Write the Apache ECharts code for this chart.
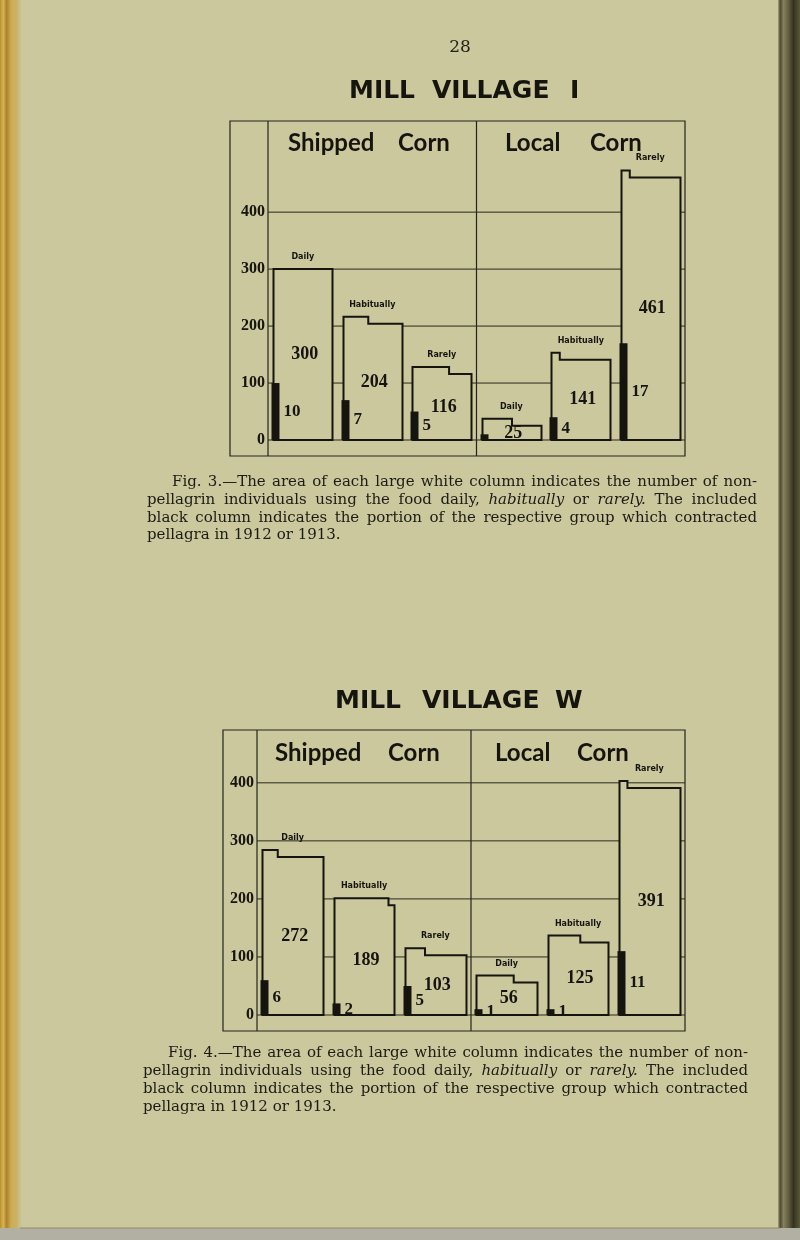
<!DOCTYPE html>
<html><head><meta charset="utf-8">
<script src="https://cdn.jsdelivr.net/npm/echarts@6/dist/echarts.min.js"></script>
<style>html,body{margin:0;padding:0;background:#cbc89d}#c{width:800px;height:1240px}</style>
</head><body><div id="c"></div>
<script>
// ---------------- data ----------------
const categories = ['Daily', 'Habitually', 'Rarely', 'Daily', 'Habitually', 'Rarely'];
const groupTitles = ['Shipped Corn', 'Local Corn'];
const yTicks = [0, 100, 200, 300, 400];
// Mill Village I
const nonPellagrinI = [300, 204, 116, 25, 141, 461];
const pellagrinI = [10, 7, 5, 1, 4, 17];
// Mill Village W
const nonPellagrinW = [272, 189, 103, 56, 125, 391];
const pellagrinW = [6, 2, 5, 1, 1, 11];
const BLACK_UNITS_PER_CASE = 10;   // black column height per pellagrin (axis units)

const captionI = [
  'Fig. 3.\u2014The area of each large white column indicates the number of non-',
  'pellagrin individuals using the food daily, *habitually* or *rarely.*  The included',
  'black column indicates the portion of the respective group which contracted',
  'pellagra in 1912 or 1913.'
];
const captionW = [
  'Fig. 4.\u2014The area of each large white column indicates the number of non-',
  'pellagrin individuals using the food daily, *habitually* or *rarely.*  The included',
  'black column indicates the portion of the respective group which contracted',
  'pellagra in 1912 or 1913.'
];

// ---------------- styles / layout ----------------
const PAPER = '#cbc89d', INK = '#15140e';
const notchI = [0, 0.42, 0.62, 0.5, 0.14, 0.14];
const notchW = [0.25, 0.9, 0.32, 0.61, 0.53, 0.13];
const showCountI = [1, 1, 1, 0, 1, 1];
const showCountW = [1, 1, 1, 1, 1, 1];

const panels = [
  { white: nonPellagrinI, black: pellagrinI, notch: notchI, showCount: showCountI,
    frameLeft: 230, axisX: 268, right: 685, top: 121, base: 440, bottom: 456, yMax: 560,
    title: [['MILL', 349], ['VILLAGE', 432], ['I', 570]], titleY: 91,
    heads: [[['Shipped', 288], ['Corn', 398]], [['Local', 505], ['Corn', 590]]], headY: 143,
    caption: captionI, capX0: [172, 147], capX1: 757, capY: [482, 500, 518, 535] },
  { white: nonPellagrinW, black: pellagrinW, notch: notchW, showCount: showCountW,
    frameLeft: 223, axisX: 257, right: 685, top: 730, base: 1015, bottom: 1031, yMax: 491,
    title: [['MILL', 335], ['VILLAGE', 422], ['W', 555]], titleY: 701,
    heads: [[['Shipped', 275], ['Corn', 388]], [['Local', 495], ['Corn', 577]]], headY: 753,
    caption: captionW, capX0: [168, 143], capX1: 748, capY: [1053, 1071, 1089, 1107] }
];

// ---------------- caption layout (justified) ----------------
const mctx = document.createElement('canvas').getContext('2d');
function fontOf(it, size) { return (it ? 'italic ' : '') + size + 'px "DejaVu Serif"'; }
function tokens(line) {
  return line.split(' ').filter(s => s.length).map(s => {
    const it = s.startsWith('*');
    return { t: s.replace(/\*/g, ''), it };
  });
}
function measure(tok, size) { mctx.font = fontOf(tok.it, size); return mctx.measureText(tok.t).width; }
function captionElements(p) {
  let size = 15;
  for (; size > 12; size -= 0.25) {
    let ok = true;
    for (let li = 0; li < 3; li++) {
      const tk = tokens(p.caption[li]);
      const x0 = li === 0 ? p.capX0[0] : p.capX0[1];
      const sum = tk.reduce((a, t) => a + measure(t, size), 0);
      const gap = (p.capX1 - x0 - sum) / (tk.length - 1);
      if (gap < size * 0.22) { ok = false; break; }
    }
    if (ok) break;
  }
  mctx.font = fontOf(false, size);
  const space = mctx.measureText(' ').width;
  const els = [];
  p.caption.forEach((line, li) => {
    const tk = tokens(line);
    const x0 = li === 0 ? p.capX0[0] : p.capX0[1];
    const widths = tk.map(t => measure(t, size));
    const sum = widths.reduce((a, b) => a + b, 0);
    const justify = li < p.caption.length - 1;
    const gap = justify ? (p.capX1 - x0 - sum) / (tk.length - 1) : space;
    let x = x0;
    tk.forEach((t, k) => {
      els.push({ type: 'text', x: x, y: p.capY[li], silent: true,
        style: { text: t.t, font: fontOf(t.it, size), fill: '#1c1b14',
                 textAlign: 'left', textVerticalAlign: 'middle', align: 'left', verticalAlign: 'middle' } });
      x += widths[k] + gap;
    });
  });
  return els;
}

// ---------------- graphic (page decoration, frames, texts) ----------------
const graphics = [];
graphics.push({ type: 'rect', silent: true, z: -10, shape: { x: 0, y: 0, width: 22, height: 1240 },
  style: { fill: new echarts.graphic.LinearGradient(0, 0, 1, 0, [
    { offset: 0, color: '#b8902f' }, { offset: 0.15, color: '#d9b352' }, { offset: 0.3, color: '#a98232' },
    { offset: 0.5, color: '#cfac4e' }, { offset: 0.75, color: '#c9b268' }, { offset: 1, color: PAPER }]) } });
graphics.push({ type: 'rect', silent: true, z: -10, shape: { x: 778, y: 0, width: 22, height: 1240 },
  style: { fill: new echarts.graphic.LinearGradient(0, 0, 1, 0, [
    { offset: 0, color: '#a9a57a' }, { offset: 0.1, color: '#4d4a33' }, { offset: 0.25, color: '#858159' },
    { offset: 0.5, color: '#5e5a3d' }, { offset: 0.7, color: '#34321f' }, { offset: 1, color: '#5b5739' }]) } });
graphics.push({ type: 'rect', silent: true, z: -9, shape: { x: 0, y: 1228, width: 800, height: 12 },
  style: { fill: '#b2b0a2' } });
graphics.push({ type: 'line', silent: true, z: -8, shape: { x1: 20, y1: 1228, x2: 780, y2: 1228 },
  style: { stroke: '#8e8b6c', lineWidth: 1 } });

graphics.push({ type: 'text', x: 460, y: 48, silent: true,
  style: { text: '28', font: '17px "DejaVu Serif"', fill: '#23221a', textAlign: 'center', textVerticalAlign: 'middle', align: 'center', verticalAlign: 'middle' } });

panels.forEach(p => {
  p.title.forEach(([w, x]) => graphics.push({ type: 'text', x: x, y: p.titleY, silent: true,
    style: { text: w, font: 'bold 25px "DejaVu Sans"', fill: INK, textAlign: 'left', textVerticalAlign: 'middle', align: 'left', verticalAlign: 'middle' } }));
  p.heads.forEach((ws, gi) => ws.forEach(([w, x]) => graphics.push({ type: 'text', x: x, y: p.headY, silent: true,
    style: { text: w, font: 'bold 24px Lato', fill: INK, textAlign: 'left', textVerticalAlign: 'middle', align: 'left', verticalAlign: 'middle' } })));
  // frame
  graphics.push({ type: 'polygon', silent: true, z: 0,
    shape: { points: [[p.frameLeft, p.top], [p.right, p.top], [p.right, p.bottom], [p.frameLeft, p.bottom]] },
    style: { fill: 'none', stroke: '#24231a', lineWidth: 1.2 } });
  graphics.push({ type: 'line', silent: true, z: 0, shape: { x1: p.axisX, y1: p.top, x2: p.axisX, y2: p.bottom },
    style: { stroke: '#24231a', lineWidth: 1.2 } });
  const mid = (p.axisX + p.right) / 2;
  graphics.push({ type: 'line', silent: true, z: 0, shape: { x1: mid, y1: p.top, x2: mid, y2: p.bottom },
    style: { stroke: '#24231a', lineWidth: 1.2 } });
  captionElements(p).forEach(e => graphics.push(e));
});

// ---------------- series ----------------
const grids = [], xAxes = [], yAxes = [], series = [];
panels.forEach((p, k) => {
  grids.push({ left: p.axisX, right: 800 - p.right, top: p.top, bottom: 1240 - p.base, containLabel: false });
  xAxes.push({ gridIndex: k, type: 'category', data: categories, show: false, boundaryGap: true });
  yAxes.push({ gridIndex: k, type: 'value', min: 0, max: p.yMax, interval: 100,
    axisLine: { show: false }, axisTick: { show: false }, splitLine: { show: false },
    axisLabel: { formatter: v => (yTicks.indexOf(v) >= 0 ? String(v) : ''), fontFamily: 'Liberation Serif',
      fontWeight: 'bold', fontSize: 16, color: INK, margin: 3, padding: [0, 0, 9, 0] } });
  // horizontal rulings
  series.push({ type: 'custom', xAxisIndex: k, yAxisIndex: k, z: 1, silent: true,
    data: yTicks.map(v => [0, v]), encode: { x: 0, y: 1 },
    renderItem: (params, api) => {
      const y = api.coord([0, api.value(1)])[1];
      const cs = params.coordSys;
      return { type: 'line', shape: { x1: cs.x, y1: y, x2: cs.x + cs.width, y2: y },
        style: { stroke: '#2a291f', lineWidth: 1 } };
    } });
  // columns
  series.push({ type: 'custom', xAxisIndex: k, yAxisIndex: k, z: 3, silent: true, clip: false,
    data: p.white.map((v, i) => [i, v, p.black[i]]), encode: { x: 0, y: 1 },
    renderItem: (params, api) => {
      const i = params.dataIndex;
      const v = api.value(1), b = api.value(2);
      const base = api.coord([i, 0]);
      const top = api.coord([i, v]);
      const w = api.size([1, 0])[0] * 0.85;
      const x0 = Math.round(base[0] - w / 2) + 0.5, x1 = Math.round(base[0] + w / 2) + 0.5;
      const yb = base[1], yt = top[1];
      const f = p.notch[i], TAB = 7;
      let pts;
      if (f > 0) {
        const xn = x0 + f * (x1 - x0);
        pts = [[x0, yb], [x0, yt - TAB], [xn, yt - TAB], [xn, yt], [x1, yt], [x1, yb]];
      } else {
        pts = [[x0, yb], [x0, yt], [x1, yt], [x1, yb]];
      }
      const bt = api.coord([i, b * BLACK_UNITS_PER_CASE])[1];
      const children = [
        { type: 'polygon', shape: { points: pts },
          style: { fill: PAPER, stroke: INK, lineWidth: 2, lineJoin: 'miter' } },
        { type: 'rect', shape: { x: x0 - 2, y: bt, width: 8, height: yb - bt }, style: { fill: INK } },
        { type: 'text', style: { text: String(v), x: base[0] + 2, y: (yt + yb) / 2,
            font: 'bold 18px "Liberation Serif"', fill: INK, textAlign: 'center', textVerticalAlign: 'middle', align: 'center', verticalAlign: 'middle' } },
        { type: 'text', style: { text: categories[i], x: base[0], y: yt - (f > 0 ? TAB : 0) - 12,
            font: 'bold 8px "DejaVu Sans"', fill: INK, textAlign: 'center', textVerticalAlign: 'middle', align: 'center', verticalAlign: 'middle' } }
      ];
      if (p.showCount[i]) {
        children.push({ type: 'text', style: { text: String(b), x: x0 + 10, y: (bt + yb) / 2,
          font: 'bold 17px "Liberation Serif"', fill: INK, textAlign: 'left', textVerticalAlign: 'middle', align: 'left', verticalAlign: 'middle' } });
      }
      return { type: 'group', children };
    } });
});

const chart = echarts.init(document.getElementById('c'), null, { renderer: 'canvas' });
chart.setOption({
  backgroundColor: PAPER,
  animation: false,
  grid: grids, xAxis: xAxes, yAxis: yAxes, series: series,
  graphic: { elements: graphics }
});
</script></body></html>
